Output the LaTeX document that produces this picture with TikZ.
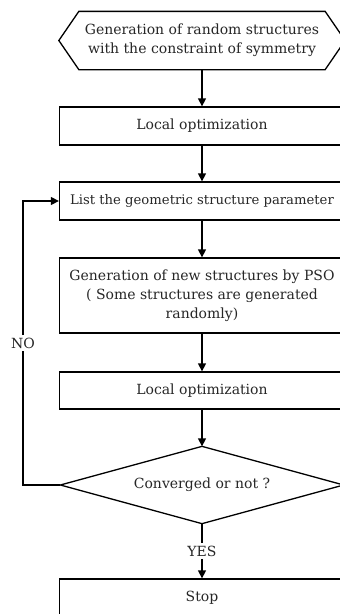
\documentclass[tikz,border=0pt]{standalone}
\usepackage{fontspec}
\setmainfont{DejaVu Serif}
\usetikzlibrary{arrows.meta}
\begin{document}
\begin{tikzpicture}[x=1pt,y=-1pt, line width=1.3pt,
  txt/.style={font=\fontsize{14}{19}\selectfont, text=black!85, align=center},
  box/.style={txt, draw, minimum width=285pt, minimum height=38pt, inner sep=0pt},
  arr/.style={-{Triangle[length=8pt,width=8pt]}}]
\useasboundingbox (0,0) rectangle (340,614);
% start hexagon
\node[txt, minimum width=285pt, minimum height=57pt, inner sep=0pt] (hex) at (202,40.5)
  {Generation of random structures\\with the constraint of symmetry};
\draw (hex.west) -- ([xshift=20pt]hex.north west) -- ([xshift=-20pt]hex.north east)
  -- (hex.east) -- ([xshift=-20pt]hex.south east) -- ([xshift=20pt]hex.south west) -- cycle;
\node[box] (lo1) at (202,126) {Local optimization};
\node[box, font=\fontsize{13.2}{19}\selectfont] (list) at (202,201) {List the geometric structure parameter};
\node[box, minimum height=75pt] (pso) at (202,295.5)
  {Generation of new structures by PSO\\( Some structures are generated\\randomly)};
\node[box, minimum height=37pt] (lo2) at (202,390.5) {Local optimization};
\node[txt, minimum width=282pt, minimum height=76pt, inner sep=0pt] (dia) at (202,485) {Converged or not ?};
\draw (dia.west) -- (dia.north) -- (dia.east) -- (dia.south) -- cycle;
\node[txt, inner sep=2pt] (yes) at (202,551) {YES};
\node[box] (stop) at (202,598) {Stop};
\node[txt, inner sep=2pt] (no) at (23,343) {NO};
% connectors
\draw[arr] (hex.south) -- (lo1.north);
\draw[arr] (lo1.south) -- (list.north);
\draw[arr] (list.south) -- (pso.north);
\draw[arr] (pso.south) -- (lo2.north);
\draw[arr] (lo2.south) -- (dia.north);
\draw (dia.south) -- (yes.north);
\draw[arr] (yes.south) -- (stop.north);
\draw (dia.west) -| (no.south);
\draw[arr] (no.north) |- (list.west);
\end{tikzpicture}
\end{document}
